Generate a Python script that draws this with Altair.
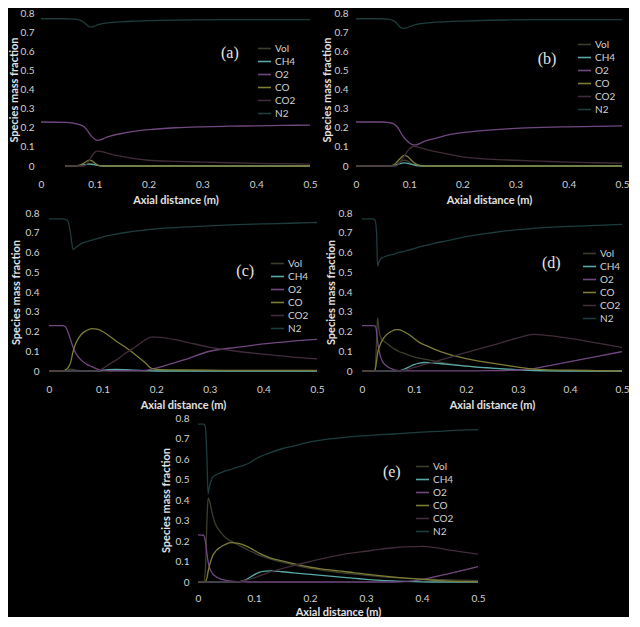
import altair as alt
import pandas as pd

SPECIES = ["Vol", "CH4", "O2", "CO", "CO2", "N2"]
COLORS = ["#3d3d2c", "#58a8a5", "#70487f", "#7d7d35", "#402c3a", "#1d3d3d"]
TICKS_X = [0, 0.1, 0.2, 0.3, 0.4, 0.5]
TICKS_Y = [0, 0.1, 0.2, 0.3, 0.4, 0.5, 0.6, 0.7, 0.8]
N = None

# ---------------- panel (a) ----------------
XA = [0, 0.045, 0.06, 0.07, 0.08, 0.085, 0.09, 0.095, 0.1, 0.105, 0.11, 0.12, 0.13, 0.15, 0.17, 0.2, 0.25, 0.3, 0.35, 0.4, 0.45, 0.5]
A_VOL = [N, 0, 0, 0.001, 0.004, 0.008, 0.012, 0.012, 0.008, 0.004, 0.001, 0, 0, 0, 0, 0, 0, 0, 0, 0, 0, 0]
A_CH4 = [N, 0, 0, 0.002, 0.006, 0.009, 0.01, 0.009, 0.006, 0.003, 0.001, 0, 0, 0, 0, 0, 0, 0, 0, 0, 0, 0]
A_O2 = [0.23, 0.228, 0.224, 0.218, 0.205, 0.19, 0.17, 0.152, 0.14, 0.134, 0.136, 0.148, 0.158, 0.17, 0.18, 0.19, 0.2, 0.205, 0.208, 0.21, 0.212, 0.214]
A_CO = [N, 0, 0, 0.003, 0.015, 0.025, 0.03, 0.027, 0.015, 0.005, 0.002, 0, 0, 0, 0, 0, 0, 0, 0, 0, 0, 0]
A_CO2 = [N, 0, 0, 0, 0, 0.01, 0.03, 0.055, 0.072, 0.078, 0.077, 0.07, 0.062, 0.05, 0.04, 0.03, 0.024, 0.02, 0.017, 0.014, 0.012, 0.01]
A_N2 = [0.77, 0.77, 0.768, 0.765, 0.75, 0.738, 0.728, 0.727, 0.732, 0.738, 0.742, 0.747, 0.75, 0.754, 0.757, 0.76, 0.763, 0.764, 0.765, 0.765, 0.765, 0.765]

# ---------------- panel (b) ----------------
XB = [0, 0.05, 0.06, 0.07, 0.075, 0.08, 0.085, 0.09, 0.095, 0.1, 0.105, 0.11, 0.115, 0.12, 0.13, 0.15, 0.18, 0.2, 0.25, 0.3, 0.35, 0.4, 0.45, 0.5]
B_VOL = [0, 0, 0, 0, 0.005, 0.015, 0.025, 0.03, 0.028, 0.02, 0.012, 0.005, 0.002, 0, 0, 0, 0, 0, 0, 0, 0, 0, 0, 0]
B_CH4 = [0, 0, 0, 0.002, 0.005, 0.01, 0.014, 0.016, 0.015, 0.012, 0.008, 0.005, 0.002, 0.001, 0, 0, 0, 0, 0, 0, 0, 0, 0, 0]
B_O2 = [0.23, 0.23, 0.228, 0.222, 0.212, 0.195, 0.17, 0.15, 0.135, 0.122, 0.113, 0.11, 0.112, 0.118, 0.13, 0.145, 0.167, 0.175, 0.188, 0.197, 0.202, 0.205, 0.207, 0.21]
B_CO = [0, 0, 0, 0.005, 0.015, 0.03, 0.045, 0.055, 0.053, 0.042, 0.027, 0.015, 0.007, 0.003, 0, 0, 0, 0, 0, 0, 0, 0, 0, 0]
B_CO2 = [0, 0, 0, 0, 0, 0.01, 0.03, 0.05, 0.07, 0.088, 0.1, 0.103, 0.1, 0.096, 0.088, 0.075, 0.058, 0.048, 0.036, 0.03, 0.025, 0.02, 0.017, 0.015]
B_N2 = [0.77, 0.77, 0.768, 0.76, 0.75, 0.735, 0.722, 0.72, 0.722, 0.728, 0.733, 0.738, 0.741, 0.744, 0.747, 0.752, 0.756, 0.758, 0.762, 0.764, 0.765, 0.765, 0.765, 0.765]

# ---------------- panel (c) ----------------
XC = [0, 0.025, 0.03, 0.035, 0.04, 0.045, 0.05, 0.06, 0.07, 0.08, 0.09, 0.1, 0.11, 0.125, 0.14, 0.16, 0.18, 0.19, 0.2, 0.25, 0.3, 0.35, 0.4, 0.45, 0.5]
C_VOL = [0, 0, 0, 0.005, 0.01, 0.008, 0.004, 0.001, 0, 0, 0, 0, 0, 0, 0, 0, 0, 0, 0, 0, 0, 0, 0, 0, 0]
C_CH4 = [0, 0, 0, 0, 0, 0, 0, 0, 0, 0, 0, 0.004, 0.007, 0.008, 0.007, 0.004, 0.002, 0.001, 0, 0, 0, 0, 0, 0, 0]
C_O2 = [0.23, 0.23, 0.225, 0.2, 0.16, 0.12, 0.09, 0.055, 0.035, 0.022, 0.01, 0.004, 0.002, 0.002, 0.002, 0.002, 0.003, 0.008, 0.015, 0.055, 0.1, 0.12, 0.137, 0.15, 0.16]
C_CO = [0, 0, 0.005, 0.015, 0.04, 0.1, 0.14, 0.185, 0.205, 0.215, 0.212, 0.2, 0.182, 0.152, 0.125, 0.085, 0.04, 0.015, 0.008, 0.005, 0.004, 0.003, 0.003, 0.003, 0.003]
C_CO2 = [0, 0, 0, 0, 0, 0, 0, 0, 0, 0, 0, 0.012, 0.03, 0.055, 0.085, 0.12, 0.158, 0.172, 0.172, 0.15, 0.12, 0.1, 0.085, 0.072, 0.062]
C_N2 = [0.77, 0.77, 0.768, 0.76, 0.7, 0.615, 0.625, 0.645, 0.655, 0.663, 0.67, 0.678, 0.685, 0.693, 0.7, 0.708, 0.714, 0.717, 0.72, 0.728, 0.735, 0.741, 0.745, 0.748, 0.752]

# ---------------- panel (d) ----------------
XD = [0, 0.02, 0.025, 0.028, 0.03, 0.033, 0.036, 0.04, 0.045, 0.05, 0.06, 0.065, 0.07, 0.08, 0.09, 0.1, 0.11, 0.12, 0.14, 0.16, 0.18, 0.2, 0.25, 0.3, 0.33, 0.35, 0.4, 0.45, 0.5]
D_VOL = [0, 0, 0.005, 0.15, 0.27, 0.2, 0.17, 0.155, 0.145, 0.135, 0.115, 0.108, 0.1, 0.09, 0.08, 0.072, 0.065, 0.06, 0.05, 0.04, 0.032, 0.025, 0.013, 0.006, 0.004, 0.003, 0.001, 0, 0]
D_CH4 = [0, 0, 0, 0, 0, 0, 0, 0, 0, 0, 0, 0, 0, 0.008, 0.02, 0.032, 0.04, 0.043, 0.04, 0.035, 0.03, 0.025, 0.015, 0.006, 0.002, 0.001, 0, 0, 0]
D_O2 = [0.23, 0.23, 0.228, 0.2, 0.15, 0.1, 0.07, 0.045, 0.03, 0.02, 0.008, 0.004, 0.002, 0.001, 0.001, 0.001, 0.001, 0.001, 0.001, 0.001, 0.001, 0.001, 0.002, 0.005, 0.012, 0.022, 0.047, 0.073, 0.098]
D_CO = [0, 0, 0.005, 0.05, 0.09, 0.12, 0.14, 0.16, 0.178, 0.19, 0.205, 0.21, 0.209, 0.2, 0.185, 0.165, 0.145, 0.133, 0.11, 0.09, 0.075, 0.063, 0.04, 0.02, 0.01, 0.007, 0.004, 0.002, 0.001]
D_CO2 = [0, 0, 0, 0, 0, 0, 0, 0, 0, 0, 0, 0, 0, 0.004, 0.01, 0.018, 0.025, 0.033, 0.048, 0.063, 0.078, 0.093, 0.13, 0.168, 0.185, 0.182, 0.165, 0.142, 0.12]
D_N2 = [0.77, 0.77, 0.765, 0.7, 0.53, 0.555, 0.568, 0.575, 0.58, 0.585, 0.59, 0.595, 0.6, 0.605, 0.612, 0.62, 0.628, 0.635, 0.647, 0.658, 0.669, 0.68, 0.7, 0.716, 0.722, 0.726, 0.732, 0.737, 0.742]

# ---------------- panel (e) ----------------
XE = [0, 0.01, 0.013, 0.016, 0.018, 0.02, 0.025, 0.03, 0.04, 0.05, 0.06, 0.07, 0.08, 0.09, 0.1, 0.11, 0.12, 0.13, 0.15, 0.17, 0.2, 0.22, 0.25, 0.28, 0.3, 0.32, 0.35, 0.37, 0.4, 0.43, 0.45, 0.5]
E_VOL = [0, 0, 0.05, 0.3, 0.41, 0.4, 0.34, 0.29, 0.245, 0.215, 0.198, 0.183, 0.17, 0.155, 0.143, 0.13, 0.12, 0.112, 0.097, 0.084, 0.066, 0.058, 0.047, 0.038, 0.033, 0.028, 0.022, 0.019, 0.015, 0.012, 0.01, 0.007]
E_CH4 = [0, 0, 0, 0, 0, 0, 0, 0, 0, 0, 0, 0, 0.005, 0.018, 0.035, 0.048, 0.053, 0.054, 0.05, 0.045, 0.037, 0.032, 0.025, 0.018, 0.013, 0.009, 0.005, 0.003, 0.001, 0, 0, 0]
E_O2 = [0.23, 0.228, 0.2, 0.14, 0.1, 0.075, 0.045, 0.03, 0.015, 0.008, 0.004, 0.002, 0.001, 0, 0, 0, 0, 0, 0, 0, 0, 0, 0, 0, 0, 0, 0, 0.002, 0.012, 0.03, 0.042, 0.075]
E_CO = [0, 0, 0.002, 0.02, 0.05, 0.075, 0.12, 0.145, 0.17, 0.185, 0.192, 0.19, 0.182, 0.17, 0.155, 0.14, 0.127, 0.117, 0.103, 0.09, 0.072, 0.064, 0.054, 0.045, 0.038, 0.032, 0.024, 0.019, 0.013, 0.007, 0.004, 0.001]
E_CO2 = [0, 0, 0, 0, 0, 0, 0, 0, 0, 0, 0, 0, 0.005, 0.012, 0.02, 0.03, 0.04, 0.05, 0.065, 0.08, 0.1, 0.113, 0.13, 0.143, 0.15, 0.158, 0.167, 0.171, 0.174, 0.165, 0.156, 0.136]
E_N2 = [0.77, 0.77, 0.76, 0.6, 0.43, 0.46, 0.505, 0.52, 0.532, 0.543, 0.55, 0.56, 0.568, 0.578, 0.595, 0.61, 0.622, 0.632, 0.65, 0.663, 0.683, 0.692, 0.702, 0.71, 0.714, 0.718, 0.722, 0.726, 0.731, 0.735, 0.738, 0.743]

LABELS = ["(a)", "(b)", "(c)", "(d)", "(e)"]
LABEL_X = [0.351, 0.359, 0.366, 0.364, 0.346]
LABEL_Y = [0.59, 0.558, 0.505, 0.548, 0.539]

XT = "Axial distance (m)"
YT = "Species mass fraction"


def build(x, series, idx, w, h, lx, ly, lab_pad, tit_pad, xlab_pad=13, xtit_pad=5):
    rows = []
    for sp, vals in zip(SPECIES, series):
        for xi, yi in zip(x, vals):
            if yi is not None:
                rows.append({"x": xi, "y": yi, "species": sp})
    df = pd.DataFrame(rows)

    def xaxis():
        return alt.Axis(values=TICKS_X, format=".1~f", labelFlush=False, labelOverlap=False,
                        labelPadding=xlab_pad, titlePadding=xtit_pad)

    def yaxis():
        return alt.Axis(values=TICKS_Y, format=".1~f", labelOverlap=False, labelPadding=lab_pad,
                        titlePadding=tit_pad)

    xs = alt.Scale(domain=[0, 0.5], nice=False)
    ys = alt.Scale(domain=[0, 0.8], nice=False)
    lines = alt.Chart(df).mark_line(strokeWidth=1.3, interpolate="monotone").encode(
        x=alt.X("x:Q", title=XT, scale=xs, axis=xaxis()),
        y=alt.Y("y:Q", title=YT, scale=ys, axis=yaxis()),
        color=alt.Color("species:N", sort=SPECIES,
                        scale=alt.Scale(domain=SPECIES, range=COLORS),
                        legend=alt.Legend(title=None, orient="none", legendX=lx, legendY=ly,
                                          symbolType="stroke", symbolSize=169,
                                          symbolStrokeWidth=1.6, rowPadding=0,
                                          labelOffset=3)),
        order=alt.Order("x:Q"),
    )
    tdf = pd.DataFrame({"x": [LABEL_X[idx]], "y": [LABEL_Y[idx]], "t": [LABELS[idx]]})
    text = alt.Chart(tdf).mark_text(font="Liberation Serif", fontSize=16, color="#e4e4e4").encode(
        x=alt.X("x:Q", title=XT, scale=xs, axis=xaxis()),
        y=alt.Y("y:Q", title=YT, scale=ys, axis=yaxis()),
        text="t:N")
    return alt.layer(lines, text).properties(width=w, height=h)


def spacer(w):
    return alt.Chart(pd.DataFrame({"v": [0]})).mark_point(opacity=0, size=1).encode(
        x=alt.value(1), y=alt.value(1)).properties(width=w, height=1)


# legend offsets are measured from each panel's plot origin
pa = build(XA, [A_VOL, A_CH4, A_O2, A_CO, A_CO2, A_N2], 0, 269, 153, 216, 28, 7, 1)
pb = build(XB, [B_VOL, B_CH4, B_O2, B_CO, B_CO2, B_N2], 1, 266, 153, 221, 24, 8, 2)
pc = build(XC, [C_VOL, C_CH4, C_O2, C_CO, C_CO2, C_N2], 2, 268, 158, 221, 43, 10, 4)
pd_ = build(XD, [D_VOL, D_CH4, D_O2, D_CO, D_CO2, D_N2], 3, 260, 158, 220, 33, 10, 2)
pe = build(XE, [E_VOL, E_CH4, E_O2, E_CO, E_CO2, E_N2], 4, 280, 164, 217, 41, 9, 4, 11, 3)


def row(*charts):
    return alt.hconcat(*charts, spacing=0, bounds="flush").resolve_scale(
        color="independent").resolve_legend(color="independent")


row1 = row(spacer(33), pa, spacer(46), pb)
row2 = row(spacer(41), pc, spacer(45), pd_)
row3 = row(spacer(190), pe)

chart = alt.vconcat(row1, row2, row3, spacing=3).resolve_scale(
    color="independent").resolve_legend(color="independent").properties(
    background="#000000", padding={"left": 0, "top": 0, "right": 0, "bottom": 0}
).configure_view(strokeWidth=0).configure_axis(
    grid=False, domain=False, ticks=False,
    labelColor="#d2d2d2", labelFont="Lato", labelFontSize=10,
    titleColor="#e2e2e2", titleFont="Lato", titleFontSize=11, titleFontWeight="bold",
).configure_legend(
    labelColor="#d2d2d2", labelFont="Lato", labelFontSize=10,
)

chart.save("out.html", embed_options={"renderer": "svg", "actions": False})
